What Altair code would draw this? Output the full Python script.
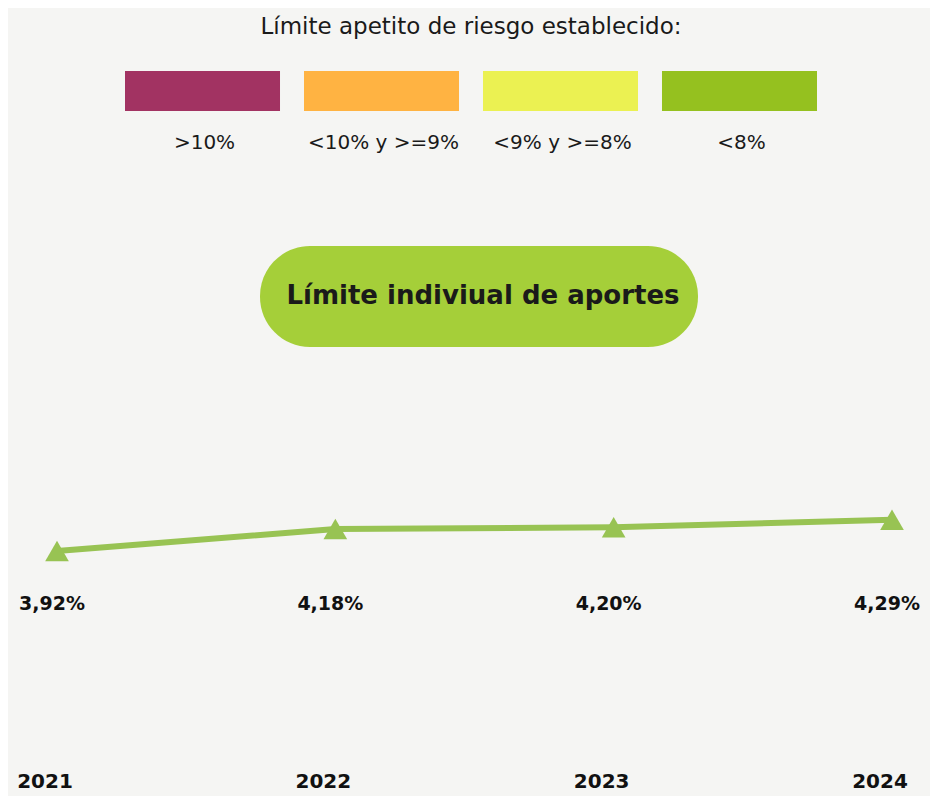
import altair as alt
import pandas as pd

# ---- data ----
years = ["2021", "2022", "2023", "2024"]
values = [3.92, 4.18, 4.20, 4.29]
value_labels = ["3,92%", "4,18%", "4,20%", "4,29%"]

legend_cats = [">10%", "<10% y >=9%", "<9% y >=8%", "<8%"]
legend_colors = ["#a23362", "#ffb342", "#ebf152", "#95c11f"]

title_text = "Límite apetito de riesgo establecido:"
pill_text = "Límite indiviual de aportes"

# ---- styles ----
BG = "#f5f5f3"
LINE_GREEN = "#98c353"
PILL_GREEN = "#a5cf39"
W, H = 922, 788
FONT = "DejaVu Sans"

df = pd.DataFrame({"year": years, "value": values, "label": value_labels})
df_leg = pd.DataFrame({"cat": legend_cats})
df_one = pd.DataFrame({"t": [0]})

x_years = alt.X("year:O", scale=alt.Scale(type="point", domain=years, range=[49, 884], padding=0), axis=None)
y_vals = alt.Y("value:Q", scale=alt.Scale(domain=[3.92, 4.18], range=[543, 521], nice=False, zero=False), axis=None)
x_leg = alt.X("cat:N", scale=alt.Scale(type="band", domain=legend_cats, range=[117, 809],
                                        paddingInner=0.134, paddingOuter=0), axis=None)

title = alt.Chart(df_one).mark_text(
    text=title_text, font=FONT, fontSize=23, color="#1a1a1a", baseline="middle", align="center"
).encode(x=alt.value(463), y=alt.value(19))

legend_boxes = alt.Chart(df_leg).mark_rect().encode(
    x=x_leg,
    y=alt.value(63), y2=alt.value(103),
    color=alt.Color("cat:N", scale=alt.Scale(domain=legend_cats, range=legend_colors), legend=None),
)

legend_labels = alt.Chart(df_leg).mark_text(
    font=FONT, fontSize=20, color="#1a1a1a", baseline="middle", align="center", dx=2
).encode(x=x_leg, y=alt.value(135), text="cat:N")

pill = alt.Chart(df_one).mark_rect(cornerRadius=50, color=PILL_GREEN).encode(
    x=alt.value(252), x2=alt.value(690), y=alt.value(238), y2=alt.value(339)
)
pill_label = alt.Chart(df_one).mark_text(
    text=pill_text, font=FONT, fontSize=26, fontWeight="bold", color="#1a1a1a",
    baseline="middle", align="center"
).encode(x=alt.value(475), y=alt.value(288))

line = alt.Chart(df).mark_line(color=LINE_GREEN, strokeWidth=6).encode(x=x_years, y=y_vals)
points = alt.Chart(df).mark_point(shape="triangle-up", filled=True, size=560, color=LINE_GREEN, opacity=1).encode(
    x=x_years, y=y_vals
)
val_text = alt.Chart(df).mark_text(
    font=FONT, fontSize=19, fontWeight="bold", color="#111111", baseline="middle", align="center", dx=-5
).encode(x=x_years, y=alt.value(596), text="label:N")
year_text = alt.Chart(df).mark_text(
    font=FONT, fontSize=20, fontWeight="bold", color="#111111", baseline="alphabetic", align="center", dx=-12
).encode(x=x_years, y=alt.value(780), text="year:N")

chart = alt.layer(
    title, legend_boxes, legend_labels, pill, pill_label, line, points, val_text, year_text
).resolve_scale(x="independent", color="independent").properties(
    width=W, height=H, background=BG, padding=0, autosize=alt.AutoSizeParams(type="none")
).configure_view(stroke=None)

chart.save("out.html", embed_options={"renderer": "svg", "actions": False})
